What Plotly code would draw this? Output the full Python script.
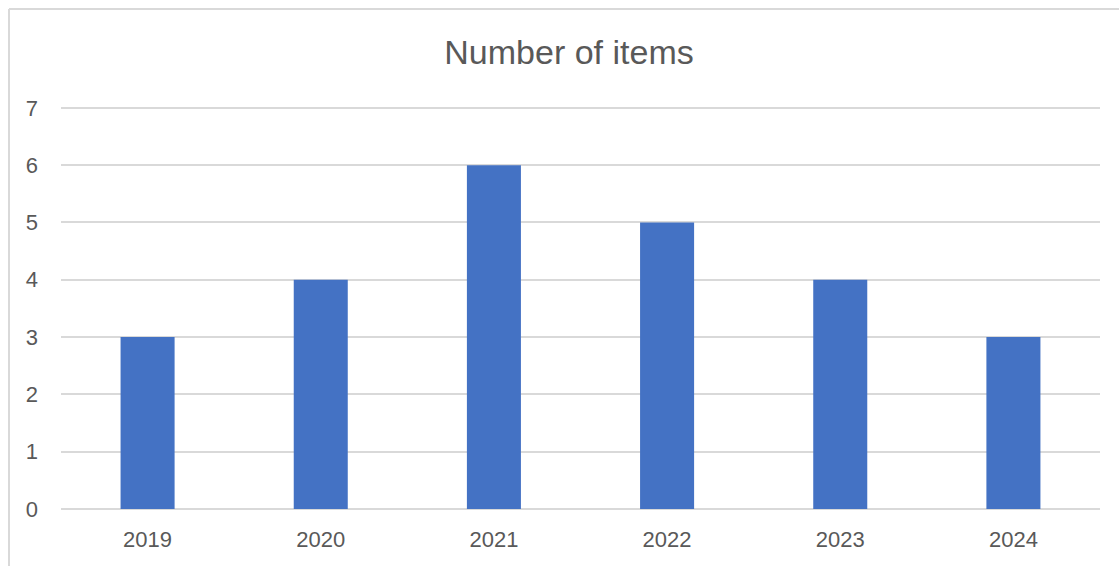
import plotly.graph_objects as go

years = ["2019", "2020", "2021", "2022", "2023", "2024"]
counts = [3, 4, 6, 5, 4, 3]
title_text = "Number of items"

W, H = 1119, 566
ML, MR, MT, MB = 61, 19, 105, 57
pw = W - ML - MR
ph = H - MT - MB

def px_x(x):
    return (x - ML) / pw

def px_y(y):
    return (H - MB - y) / ph

fig = go.Figure(go.Bar(x=years, y=counts, marker=dict(color="#4472C4", line=dict(width=0)),
                       width=0.312))

fig.update_layout(
    width=W, height=H,
    margin=dict(l=ML, r=MR, t=MT, b=MB),
    paper_bgcolor="white", plot_bgcolor="white",
    font=dict(family="Liberation Sans, Arial, sans-serif", color="#595959"),
    title=dict(text=title_text, x=569 / W, xref="container", xanchor="center",
               y=1 - 52 / H, yanchor="middle", yref="container",
               font=dict(size=34, color="#595959")),
    showlegend=False,
    xaxis=dict(showgrid=False, showline=False, ticks="", tickfont=dict(size=22),
               ticklabelstandoff=15),
    yaxis=dict(range=[0, 7.05], tickvals=[0, 1, 2, 3, 4, 5, 6, 7], showgrid=True,
               gridcolor="#d9d9d9", gridwidth=1.5,
               zeroline=True, zerolinecolor="#d9d9d9", zerolinewidth=1.5,
               showline=False, ticks="", tickfont=dict(size=22), ticklabelstandoff=22),
    shapes=[
        dict(type="line", xref="paper", yref="paper", x0=px_x(9), x1=px_x(W + 5),
             y0=px_y(9), y1=px_y(9), line=dict(color="#d9d9d9", width=2)),
        dict(type="line", xref="paper", yref="paper", x0=px_x(9), x1=px_x(9),
             y0=px_y(9), y1=px_y(H + 5), line=dict(color="#d9d9d9", width=2)),
    ],
)

fig.write_html("out.html")
